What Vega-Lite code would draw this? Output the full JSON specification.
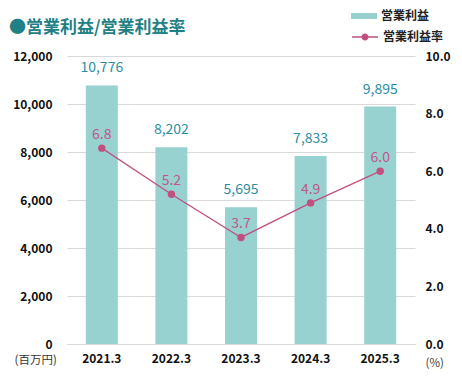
{
  "$schema": "https://vega.github.io/schema/vega-lite/v6.json",
  "width": 348,
  "height": 288,
  "autosize": "none",
  "padding": {"left": 67, "top": 56, "right": 47, "bottom": 33},
  "background": "white",
  "config": {"font": "Noto Sans CJK JP", "view": {"stroke": null}},
  "title": {"text": "●営業利益/営業利益率", "anchor": "start", "frame": "group", "dx": -58, "offset": 0, "dy": 51, "baseline": "bottom", "fontSize": 17, "fontWeight": "bold", "color": "#1f8086"},
  "data": {"values": [
    {"year": "2021.3", "profit": 10776, "rate": 6.8},
    {"year": "2022.3", "profit": 8202, "rate": 5.2},
    {"year": "2023.3", "profit": 5695, "rate": 3.7},
    {"year": "2024.3", "profit": 7833, "rate": 4.9},
    {"year": "2025.3", "profit": 9895, "rate": 6.0}
  ]},
  "encoding": {
    "x": {"field": "year", "type": "nominal", "sort": null,
      "scale": {"paddingInner": 0.54, "paddingOuter": 0.27},
      "axis": {"title": null, "labelAngle": 0, "domainColor": "#d9d9d9", "domainWidth": 1, "ticks": false, "labelPadding": 9, "labelFontSize": 12, "labelColor": "#111", "labelFontWeight": "bold"}}
  },
  "layer": [
    {
      "encoding": {
        "y": {"field": "profit", "type": "quantitative",
          "scale": {"domain": [0, 12000], "nice": false},
          "axis": {"values": [0, 2000, 4000, 6000, 8000, 10000, 12000], "format": ",.0f", "grid": true, "gridColor": "#d9d9d9", "domain": false, "ticks": false, "labelPadding": 15, "labelFontSize": 12, "labelColor": "#111", "labelFontWeight": "bold",
            "title": "(百万円)", "titleAngle": 0, "titleX": -53, "titleY": 307, "titleAlign": "left", "titleBaseline": "alphabetic", "titleFontSize": 11.5, "titleFontWeight": "normal", "titleColor": "#333"}}
      },
      "layer": [
        {"mark": {"type": "bar"},
         "encoding": {"fill": {"datum": "営業利益", "scale": {"range": ["#98d2d0"]},
           "legend": {"title": null, "orient": "none", "legendX": 284, "legendY": -53, "symbolType": "M-1,-0.23L1,-0.23L1,0.23L-1,0.23Z", "symbolSize": 676, "symbolStrokeWidth": 0, "labelFontSize": 12, "labelFontWeight": "bold", "labelColor": "#222", "labelOffset": 4}}}},
        {"mark": {"type": "text", "baseline": "alphabetic", "dy": -13, "fontSize": 14, "color": "#2b8ea3"},
         "encoding": {"text": {"field": "profit", "type": "quantitative", "format": ",.0f"}}}
      ]
    },
    {
      "encoding": {
        "y": {"field": "rate", "type": "quantitative",
          "scale": {"domain": [0, 10], "nice": false},
          "axis": {"orient": "right", "values": [0, 2, 4, 6, 8, 10], "format": ".1f", "grid": false, "domain": false, "ticks": false, "labelPadding": 10, "labelFontSize": 12, "labelColor": "#111", "labelFontWeight": "bold",
            "title": "(%)", "titleAngle": 0, "titleX": 10, "titleY": 310, "titleAlign": "left", "titleBaseline": "alphabetic", "titleFontSize": 11.5, "titleFontWeight": "normal", "titleColor": "#444"}}
      },
      "layer": [
        {"mark": {"type": "line", "strokeWidth": 1.3},
         "encoding": {"stroke": {"datum": "営業利益率", "scale": {"range": ["#c0507f"]},
           "legend": {"title": null, "orient": "none", "legendX": 284, "legendY": -33, "symbolType": "M-1,0L1,0M-0.22,0A0.22,0.22 0 1 1 0.22,0A0.22,0.22 0 1 1 -0.22,0Z", "symbolSize": 676, "labelFontSize": 12, "labelFontWeight": "bold", "labelColor": "#222", "labelOffset": 4,
             "symbolFillColor": "#c0507f", "symbolStrokeColor": "#c0507f", "symbolStrokeWidth": 1.3,
             "encode": {"symbols": {"update": {"fill": {"value": "#c0507f"}, "stroke": {"value": "#c0507f"}, "strokeWidth": {"value": 1.3}}}}}}}},
        {"mark": {"type": "point", "filled": true, "size": 55, "opacity": 1, "color": "#c0507f"}},
        {"mark": {"type": "text", "baseline": "alphabetic", "dy": -9, "fontSize": 14, "color": "#c0578a"},
         "encoding": {"text": {"field": "rate", "type": "quantitative", "format": ".1f"}}}
      ]
    }
  ],
  "resolve": {"scale": {"y": "independent"}}
}
